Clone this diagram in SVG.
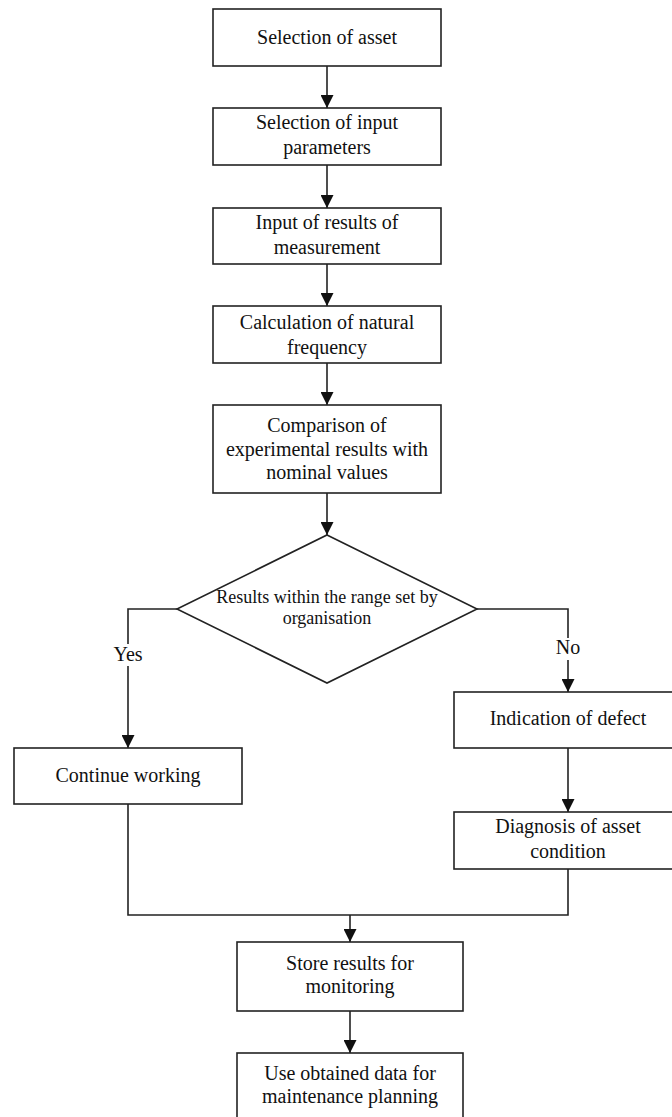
<svg xmlns="http://www.w3.org/2000/svg" width="672" height="1117" viewBox="0 0 672 1117">
<style>
.box{fill:#fff;stroke:#222;stroke-width:1.6}
.t{font-family:"Liberation Serif","Times New Roman",serif;font-size:20px;fill:#111;text-anchor:middle}
.td{font-family:"Liberation Serif","Times New Roman",serif;font-size:18px;fill:#111;text-anchor:middle}
.c{fill:none;stroke:#222;stroke-width:1.6}
</style>
<defs>
<marker id="ah" markerWidth="13" markerHeight="13" refX="13" refY="6.5" orient="auto" markerUnits="userSpaceOnUse">
<path d="M0,0 L13,6.5 L0,13 Z" fill="#111"/>
</marker>
</defs>
<rect width="672" height="1117" fill="#fff"/>
<g id="connectors">
<line class="c" x1="327" y1="66" x2="327" y2="108" marker-end="url(#ah)"/>
<line class="c" x1="327" y1="165" x2="327" y2="208" marker-end="url(#ah)"/>
<line class="c" x1="327" y1="264" x2="327" y2="306" marker-end="url(#ah)"/>
<line class="c" x1="327" y1="363" x2="327" y2="405" marker-end="url(#ah)"/>
<line class="c" x1="327" y1="493" x2="327" y2="535" marker-end="url(#ah)"/>
<polyline class="c" points="177,609 128,609 128,644"/>
<line class="c" x1="128" y1="666" x2="128" y2="748" marker-end="url(#ah)"/>
<text class="t" x="128" y="661">Yes</text>
<polyline class="c" points="477,609 568,609 568,638"/>
<line class="c" x1="568" y1="660" x2="568" y2="692" marker-end="url(#ah)"/>
<text class="t" x="568" y="654">No</text>
<line class="c" x1="568" y1="748" x2="568" y2="812" marker-end="url(#ah)"/>
<polyline class="c" points="128,804 128,915 568,915 568,869"/>
<line class="c" x1="350" y1="915" x2="350" y2="942" marker-end="url(#ah)"/>
<line class="c" x1="350" y1="1011" x2="350" y2="1053" marker-end="url(#ah)"/>
</g>
<g id="n1"><rect class="box" x="213" y="9" width="228" height="57"/><text class="t" x="327" y="44">Selection of asset</text></g>
<g id="n2"><rect class="box" x="213" y="108" width="228" height="57"/><text class="t" x="327" y="129">Selection of input</text><text class="t" x="327" y="154">parameters</text></g>
<g id="n3"><rect class="box" x="213" y="208" width="228" height="56"/><text class="t" x="327" y="229">Input of results of</text><text class="t" x="327" y="254">measurement</text></g>
<g id="n4"><rect class="box" x="213" y="306" width="228" height="57"/><text class="t" x="327" y="329">Calculation of natural</text><text class="t" x="327" y="354">frequency</text></g>
<g id="n5"><rect class="box" x="213" y="405" width="228" height="88"/><text class="t" x="327" y="432">Comparison of</text><text class="t" x="327" y="456">experimental results with</text><text class="t" x="327" y="479">nominal values</text></g>
<g id="d1"><polygon class="box" points="327,535 477,609 327,683 177,609"/><text class="td" x="327" y="603">Results within the range set by</text><text class="td" x="327" y="624">organisation</text></g>
<g id="n6"><rect class="box" x="14" y="748" width="228" height="56"/><text class="t" x="128" y="782">Continue working</text></g>
<g id="n7"><rect class="box" x="454" y="692" width="228" height="56"/><text class="t" x="568" y="725">Indication of defect</text></g>
<g id="n8"><rect class="box" x="454" y="812" width="228" height="57"/><text class="t" x="568" y="833">Diagnosis of asset</text><text class="t" x="568" y="858">condition</text></g>
<g id="n9"><rect class="box" x="237" y="942" width="226" height="69"/><text class="t" x="350" y="970">Store results for</text><text class="t" x="350" y="993">monitoring</text></g>
<g id="n10"><rect class="box" x="237" y="1053" width="226" height="70"/><text class="t" x="350" y="1080">Use obtained data for</text><text class="t" x="350" y="1103">maintenance planning</text></g>
</svg>
